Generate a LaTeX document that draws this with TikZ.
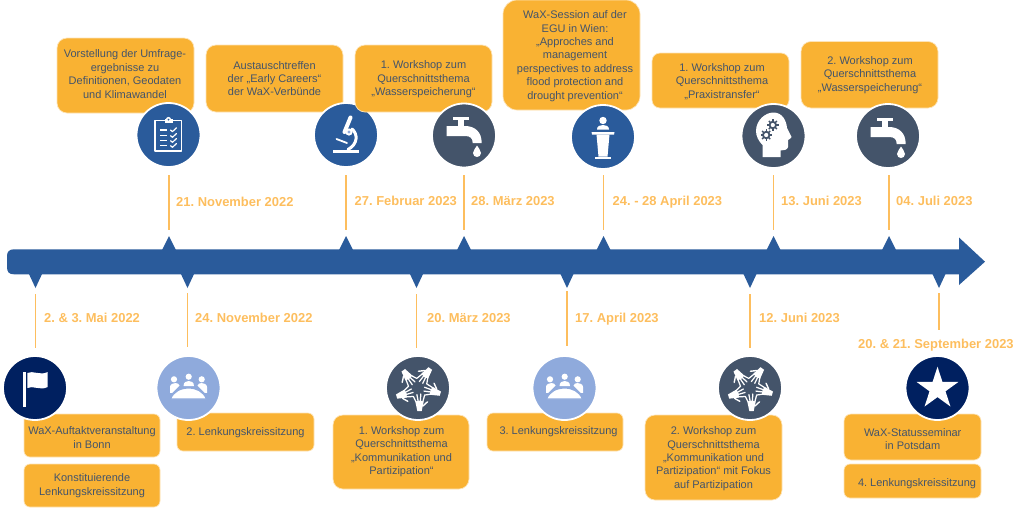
\documentclass[tikz,border=0pt]{standalone}
\usepackage{fontspec}
\setmainfont{Liberation Sans}
\definecolor{barblue}{HTML}{2A5B9B}
\definecolor{slate}{HTML}{44546A}
\definecolor{navy}{HTML}{002060}
\definecolor{lightb}{HTML}{8FAADC}
\definecolor{orangebox}{HTML}{F9B233}
\definecolor{datecol}{HTML}{FDBE5E}
\tikzset{
  evbox/.style={rectangle,rounded corners=#1,fill=orangebox,draw=orangebox!35!white,line width=.7pt,inner sep=0pt},
  evtext/.style={inner sep=0pt,align=center,text=slate,font=\fontsize{11}{13.4}\selectfont\frenchspacing},
  datetext/.style={inner sep=0pt,anchor=west,text height=9.5pt,text depth=0pt,text=datecol,font=\fontsize{12.95}{14}\selectfont\bfseries\frenchspacing},
  stem/.style={draw=datecol,line width=1.6pt},
  disc/.style={circle,minimum size=64pt,inner sep=0pt,draw=white,line width=1.8pt},
  ico/.style={fill=white,draw=none},
  icoline/.style={draw=white,line cap=round,line join=round},
}
\newcommand{\evb}[9]{%
  \node[evbox=#6,minimum width={(#4-#2)*1pt},minimum height={(#5-#3)*1pt}] (#1) at ({(#2+#4)/2},{(#3+#5)/2}) {};
  \node[evtext] (#1t) at (#7,#8) {#9};}
\newcommand{\upstem}[5]{% name x y0 y1 date ; tick points up
  \coordinate (#1a) at (#2,#3); \coordinate (#1b) at (#2,#4);
  \draw[stem] (#1a) -- (#1b);
  \fill[barblue] (#2,236) -- ({#2+7},250) -- ({#2-7},250) -- cycle;}
\newcommand{\downstem}[5]{%
  \coordinate (#1a) at (#2,#3); \coordinate (#1b) at (#2,#4);
  \draw[stem] (#1a) -- (#1b);
  \fill[barblue] (#2,288) -- ({#2+7},273) -- ({#2-7},273) -- cycle;}
\newcommand{\icoclip}[2]{\begin{scope}[shift={(#1,#2)}]
  \draw[draw=white,line width=1.5pt,line join=round] (-13.5,-14.5) rectangle (13,16);
  \fill[white] (-4,-16.5) rectangle (4,-12.5);
  \fill[white] (0,-15.5) circle[radius=2.6];
  \fill[barblue] (0,-15.5) circle[radius=1];
  \foreach \yy in {-5,0.7,5.7,10.7}{
    \draw[white,line width=1.4pt] (-8.5,\yy) -- (-1.2,\yy);
    \draw[icoline,line width=1.2pt] (2,\yy) -- (4,{\yy+1.6}) -- (8,{\yy-2.2});}
\end{scope}}
\newcommand{\icomicro}[2]{\begin{scope}[shift={(#1,#2)}]
  \fill[white] (-13,15) rectangle (12.5,18);
  \draw[icoline,line width=4pt] (4.5,-17.5) -- (-1.5,-3);
  \draw[icoline,line width=3pt] (6,-6) .. controls (12,-1) and (12,9) .. (2,14.5);
  \draw[icoline,line width=1.8pt] (-9.5,4) -- (1,8);
  \fill[white] (3,-3) circle[radius=3.6];
  \fill[lightb] (3,-3) circle[radius=1.6];
\end{scope}}
\newcommand{\icotap}[2]{\begin{scope}[shift={(#1,#2)}]
  \fill[white] (-11.3,-18) rectangle (5.3,-15);
  \fill[white] (-5.7,-16) rectangle (0,-8);
  \fill[white] (-17.3,-9) -- (1,-9) .. controls (11,-9) and (17.7,-3) .. (17.7,8) -- (8.7,8)
     .. controls (8.7,3) and (6,1) .. (1,1) -- (-17.3,1) -- cycle;
  \fill[white] (13,10.5) .. controls (14,13) and (17,15) .. (17,18) .. controls (17,20.5) and (15,22) .. (13,22)
     .. controls (11,22) and (9,20.5) .. (9,18) .. controls (9,15) and (12,13) .. (13,10.5) -- cycle;
\end{scope}}
\newcommand{\icopod}[2]{\begin{scope}[shift={(#1,#2)}]
  \fill[white] (0,-16.5) circle[radius=3.7];
  \fill[white] (-6,-7.5) .. controls (-6,-11) and (-3,-12) .. (0,-12) .. controls (3,-12) and (6,-11) .. (6,-7.5) -- cycle;
  \fill[white] (-11.5,-5) -- (11.5,-5) -- (11,-2.5) -- (-11,-2.5) -- cycle;
  \fill[white] (-6.5,-2.5) -- (6.5,-2.5) -- (4.5,19.7) -- (-4.5,19.7) -- cycle;
  \fill[white] (-7.8,19.7) rectangle (7.8,22);
\end{scope}}
\newcommand{\gearico}[2]{\begin{scope}[shift={(#1,#2)}]
  \fill[slate] (0,0) circle[radius=4.2];
  \foreach \a in {0,45,...,315}{\draw[slate,line width=1.4pt] (\a:3.5) -- (\a:5.7);}
  \fill[white] (0,0) circle[radius=2.1];
\end{scope}}
\newcommand{\icohead}[2]{\begin{scope}[shift={(#1,#2)}]
  \fill[white] (-11,21) -- (-11,9) .. controls (-15,5) and (-17.5,0) .. (-17.5,-5)
    .. controls (-17.5,-16) and (-8,-23.5) .. (0,-23.5) .. controls (9,-23.5) and (13,-15) .. (13.5,-8)
    -- (18,1) .. controls (18,3) and (15,3) .. (14.5,4) -- (14.5,11) .. controls (14,14) and (10,14.5) .. (7,14.5) -- (7,21) -- cycle;
  \gearico{-0.7}{-11}
  \gearico{-7.3}{-1}
\end{scope}}
\newcommand{\onehand}[1]{\begin{scope}[rotate=#1,xshift=1.5pt]
  \fill[white] (-2.2,23) -- (2.2,23) -- (4.2,13.5) .. controls (1.5,12.2) and (-1.5,12.2) .. (-4.2,13.5) -- cycle;
  \draw[icoline,line width=1.25pt] (-3.5,13.8) -- (-6.2,8.4);
  \draw[icoline,line width=1.25pt] (-1.4,13) -- (-2.6,6.6);
  \draw[icoline,line width=1.25pt] (1,13) -- (1.2,6);
  \draw[icoline,line width=1.25pt] (3.3,13.8) -- (5,7.6);
  \draw[icoline,line width=1.4pt] (3.4,18) -- (8,13.8);
\end{scope}}
\newcommand{\icohands}[2]{\begin{scope}[shift={(#1,#2)}]
  \foreach \r in {0,72,144,216,288}{\onehand{\r}}
\end{scope}}
\newcommand{\icotable}[2]{\begin{scope}[shift={(#1,#2)}]
  \foreach \xx/\yy in {-14.5/-8.7,13.2/-8.7,0.2/-11.3}{\fill[white] (\xx,\yy) circle[radius=3.1];}
  \fill[white] (-18.5,7) -- (-18.5,-1) .. controls (-18.5,-4) and (-15,-5) .. (-13,-5) .. controls (-11,-5) and (-9.5,-4) .. (-9,-2.5) -- cycle;
  \fill[white] (18.5,7) -- (18.5,-1) .. controls (18.5,-4) and (15,-5) .. (13,-5) .. controls (11,-5) and (9.5,-4) .. (9,-2.5) -- cycle;
  \fill[white] (-5,-2) .. controls (-5,-6) and (-2,-7) .. (0.2,-7) .. controls (2.5,-7) and (5.5,-6) .. (5.5,-2) -- cycle;
  \fill[lightb] (-20,11) rectangle (20,5);
  \draw[fill=white,draw=lightb,line width=1.2pt] (-18,11) .. controls (-15,3.5) and (-8,0) .. (0.2,0) .. controls (8,0) and (15,3.5) .. (18,11) -- cycle;
\end{scope}}
\newcommand{\icoflag}[2]{\begin{scope}[shift={(#1,#2)}]
  \fill[white] (-11.7,-16.3) rectangle (-9,18.7);
  \fill[white] (-7.7,-15) .. controls (-2,-18) and (5,-12) .. (12.7,-16) -- (12.7,-1) .. controls (5,3) and (-2,-3) .. (-7.7,0) -- cycle;
\end{scope}}
\begin{document}
\begin{tikzpicture}[x=1pt,y=-1pt]
\useasboundingbox (0,0) rectangle (1024,507);
% ---- main arrow
\fill[barblue] (959,249.3) -- (14,249.3) .. controls (9,249.3) and (7,252) .. (7,256) -- (7,267) .. controls (7,272) and (9,274.3) .. (14,274.3)
   -- (959,274.3) -- (959,285) -- (985,261.7) -- (959,237.5) -- cycle;
% ---- stems above
\upstem{u1}{169}{175}{230}{}
\upstem{u2}{346}{175}{230}{}
\upstem{u3}{464}{175}{230}{}
\upstem{u4}{603.5}{175}{230}{}
\upstem{u5}{773.5}{175}{230}{}
\upstem{u6}{889}{175}{230}{}
% ---- stems below
\downstem{d1}{35.5}{294}{348}{}
\downstem{d2}{187.5}{293}{347}{}
\downstem{d3}{416.5}{294}{348}{}
\downstem{d4}{567}{291}{346}{}
\downstem{d5}{750}{294}{348}{}
\downstem{d6}{939}{293}{330}{}
% ---- dates
\node[datetext] (dt1) at (176,201.5) {21. November 2022};
\node[datetext] (dt2) at (354.5,201) {27. Februar 2023};
\node[datetext] (dt3) at (471,201) {28. März 2023};
\node[datetext] (dt4) at (612.5,201) {24. - 28 April 2023};
\node[datetext] (dt5) at (781,201) {13. Juni 2023};
\node[datetext] (dt6) at (896,201) {04. Juli 2023};
\node[datetext] (db1) at (44,318) {2. \& 3. Mai 2022};
\node[datetext] (db2) at (195,318) {24. November 2022};
\node[datetext] (db3) at (427,318) {20. März 2023};
\node[datetext] (db4) at (575,318) {17. April 2023};
\node[datetext] (db5) at (759,318) {12. Juni 2023};
\node[datetext] (db6) at (858,344) {20. \& 21. September 2023};
% ---- upper row
\evb{ba}{57}{38}{194}{113}{10pt}{125}{74}{Vorstellung der Umfrage-\\ergebnisse zu\\Definitionen, Geodaten\\und Klimawandel}
\node[disc,fill=barblue] (c1) at (168.5,135) {};
\icoclip{168.5}{135}
\evb{bb}{206}{45}{343}{112}{10pt}{274.5}{78.5}{Austauschtreffen\\der „Early Careers“\\der WaX-Verbünde}
\node[disc,fill=barblue] (c2) at (346,135) {};
\icomicro{346}{135}
\evb{bc}{355}{45}{492}{112}{10pt}{423.5}{79.5}{1. Workshop zum\\Querschnittsthema\\„Wasserspeicherung“}
\node[disc,fill=slate] (c3) at (464,135.5) {};
\icotap{464}{135}
\evb{bd}{503}{0}{640}{110}{14pt}{575}{56}{WaX-Session auf der\\EGU in Wien:\\„Approches and\\management\\perspectives to address\\flood protection and\\drought prevention“}
\node[disc,fill=barblue] (c4) at (603,137) {};
\icopod{603}{137}
\evb{be}{652}{53}{789}{108}{8pt}{722}{81.5}{1. Workshop zum\\Querschnittsthema\\„Praxistransfer“}
\node[disc,fill=slate] (c5) at (773.5,136) {};
\icohead{773.5}{136}
\evb{bf}{801}{41.5}{938}{108}{10pt}{870}{75}{2. Workshop zum\\Querschnittsthema\\„Wasserspeicherung“}
\node[disc,fill=slate] (c6) at (888,136) {};
\icotap{888}{136}
% ---- lower row
\evb{bg}{24}{414}{160}{457}{6pt}{92}{437.6}{WaX-Auftaktveranstaltung\\in Bonn}
\evb{bh}{24}{464}{160}{507}{6pt}{92}{485.7}{Konstituierende\\Lenkungskreissitzung}
\node[disc,fill=navy] (c7) at (35,388) {};
\icoflag{35}{388}
\evb{bi}{177}{413}{314}{451}{6pt}{245.5}{432.7}{2. Lenkungskreissitzung}
\node[disc,fill=lightb] (c8) at (188.5,388) {};
\icotable{188.5}{388}
\evb{bj}{333}{415}{469}{489}{10pt}{401.5}{451.7}{1. Workshop zum\\Querschnittsthema\\„Kommunikation und\\Partizipation“}
\node[disc,fill=slate] (c9) at (418,388) {};
\icohands{418}{388}
\evb{bk}{487}{413}{623}{451}{6pt}{558.5}{432}{3. Lenkungskreissitzung}
\node[disc,fill=lightb] (c10) at (564.5,388) {};
\icotable{564.5}{388}
\evb{bl}{645}{415}{782}{500}{10pt}{713.5}{458.7}{2. Workshop zum\\Querschnittsthema\\„Kommunikation und\\Partizipation“ mit Fokus\\auf Partizipation}
\node[disc,fill=slate] (c11) at (750,388) {};
\icohands{750}{388}
\evb{bm}{844}{414}{981}{460}{7pt}{912.7}{439.3}{WaX-Statusseminar\\in Potsdam}
\evb{bn}{844}{464}{981}{498}{6pt}{917}{483.3}{4. Lenkungskreissitzung}
\node[disc,fill=navy] (c12) at (937.5,388) {};
\begin{scope}[shift={(937.5,388.7)}]
  \fill[white] (-90:22) -- (-54:8.4) -- (-18:22) -- (18:8.4) -- (54:22) -- (90:8.4) -- (126:22) -- (162:8.4) -- (198:22) -- (234:8.4) -- cycle;
\end{scope}
\end{tikzpicture}
\end{document}
